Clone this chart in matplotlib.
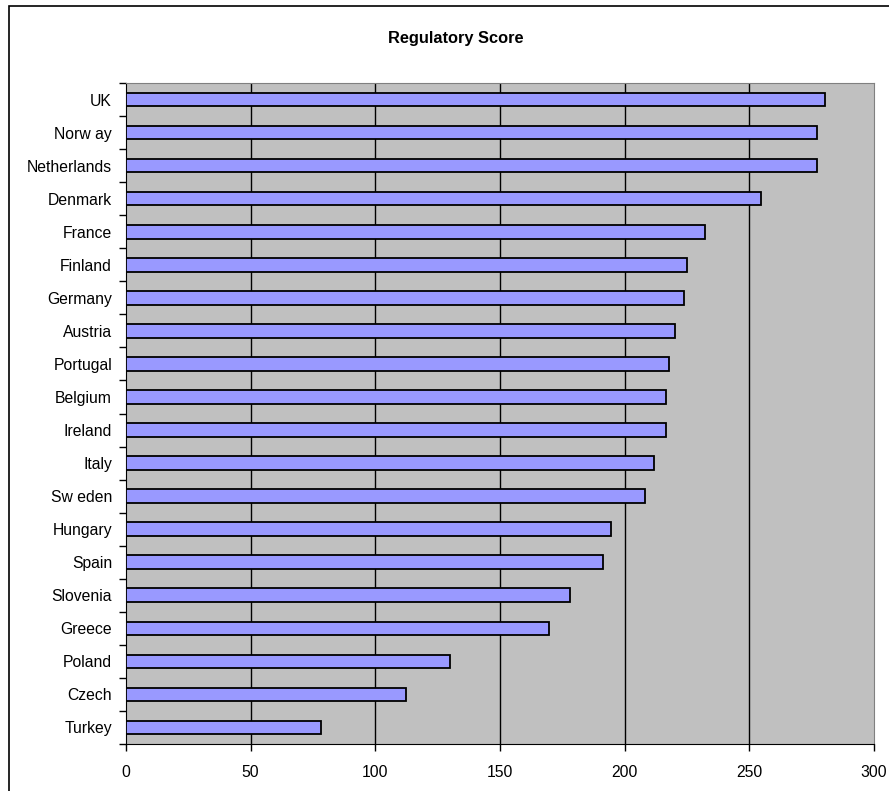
import matplotlib.pyplot as plt
from matplotlib.patches import Rectangle
import numpy as np

plt.rcParams['font.family'] = ['Liberation Sans', 'DejaVu Sans']

countries = ["UK", "Norw ay", "Netherlands", "Denmark", "France", "Finland",
             "Germany", "Austria", "Portugal", "Belgium", "Ireland", "Italy",
             "Sw eden", "Hungary", "Spain", "Slovenia", "Greece", "Poland",
             "Czech", "Turkey"]
scores = [280.4, 277.0, 277.0, 254.6, 232.3, 225.0, 223.6, 220.3, 217.9, 216.7,
          216.7, 211.9, 208.3, 194.4, 191.2, 177.9, 169.5, 130.1, 112.4, 78.3]
xticks = [0, 50, 100, 150, 200, 250, 300]

W, H = 889, 791
fig = plt.figure(figsize=(W / 100, H / 100), dpi=100)
ax = fig.add_axes([126 / W, 1 - 744 / H, (874 - 126) / W, (744 - 83) / H])

# Outer chart border (left and top edges visible)
fig.patches.append(Rectangle((9 / W, -0.05), 1.2, 1 - 6 / H + 0.05,
                             transform=fig.transFigure, fill=False,
                             edgecolor='black', linewidth=1.2))

ax.set_facecolor('#c0c0c0')
y = np.arange(len(countries))
ax.barh(y, scores, height=0.41, color='#9999ff', edgecolor='black',
        linewidth=1.3, zorder=3)

ax.set_xlim(0, 300)
ax.set_ylim(len(countries) - 0.5, -0.5)
ax.set_xticks(xticks)
ax.set_xticklabels([str(v) for v in xticks], fontsize=11.3)
for v in xticks[1:-1]:
    ax.axvline(v, color='black', linewidth=1, zorder=1)

ax.set_yticks(y)
ax.set_yticklabels(countries, fontsize=11.3)
ax.tick_params(axis='y', length=0, pad=10)
# Category boundary ticks on the value axis
ax.set_yticks(np.arange(-0.5, len(countries), 1), minor=True)
ax.tick_params(axis='y', which='minor', length=5, width=1, direction='out')
ax.tick_params(axis='x', length=5, width=1, direction='out', pad=10)

ax.spines['left'].set_color('black')
ax.spines['bottom'].set_color('black')
ax.spines['top'].set_color('#808080')
ax.spines['right'].set_color('#808080')

fig.text(456 / W, 1 - 38 / H, "Regulatory Score", ha='center', va='center',
         fontsize=11.8, fontweight='bold')

fig.savefig('out.png', dpi=100)
